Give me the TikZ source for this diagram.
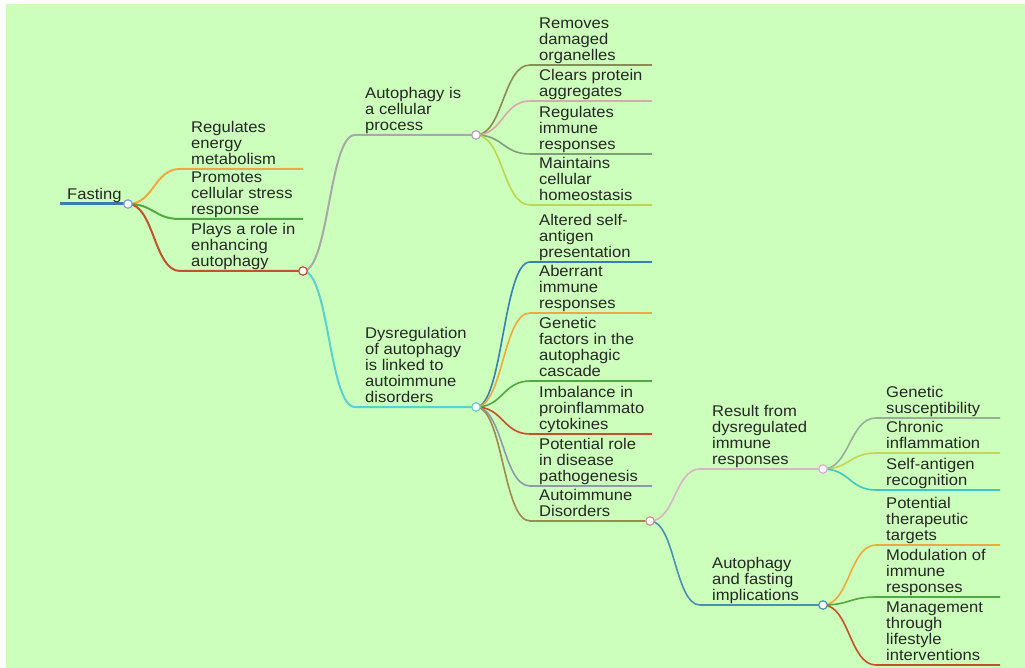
\documentclass[tikz,border=0pt]{standalone}
\usepackage{fontspec}
\setmainfont{Liberation Sans}[FakeStretch=1.07]
\usetikzlibrary{calc}
\definecolor{bg}{RGB}{204,255,187}
\definecolor{txt}{RGB}{38,38,38}
\definecolor{cRoot}{RGB}{61,122,181}
\definecolor{cRootDot}{RGB}{130,160,205}
\definecolor{cOrange}{RGB}{240,168,60}
\definecolor{cGreen}{RGB}{82,168,68}
\definecolor{cRed}{RGB}{192,82,46}
\definecolor{cGray}{RGB}{168,168,168}
\definecolor{cGrayDot}{RGB}{176,160,184}
\definecolor{cCyan}{RGB}{91,208,208}
\definecolor{cOlive}{RGB}{139,139,85}
\definecolor{cPink}{RGB}{217,168,168}
\definecolor{cGrayGreen}{RGB}{127,159,120}
\definecolor{cYellowGreen}{RGB}{188,216,74}
\definecolor{cBlue}{RGB}{58,126,184}
\definecolor{cGrayBlue}{RGB}{140,154,170}
\definecolor{cOliveBrown}{RGB}{160,136,78}
\definecolor{cOliveDot}{RGB}{200,150,140}
\definecolor{cPink2}{RGB}{216,180,196}
\definecolor{cPinkDot}{RGB}{224,168,216}
\definecolor{cSteel}{RGB}{74,143,181}
\definecolor{cCyan2}{RGB}{64,200,192}
\definecolor{cGrayGreen2}{RGB}{152,174,152}
\definecolor{cYellowGreen2}{RGB}{198,212,84}
\newcommand\lastd{\rule[-4.5pt]{0pt}{4.5pt}}
\newcommand\lnk[4]{\draw[#4] let \p1=(#1), \p2=(#2) in (\p1) .. controls ({0.5*\x1+0.5*\x2},\y1) and ({0.5*\x1+0.5*\x2},\y2) .. (\p2) -- (#3);}
\tikzset{
  lbl/.style={anchor=south west, inner sep=0pt, align=left, text=txt, font=\fontsize{15.5}{16}\selectfont},
  dot/.style={circle, fill=white, draw, line width=1.2pt, minimum size=8.5pt, inner sep=0pt},
  lw1/.style={line width=2pt},
  lw2/.style={line width=1.6pt}
}
\begin{document}
\begin{tikzpicture}[x=1pt,y=-1pt]
\useasboundingbox (0,0) rectangle (1025,668);
\fill[white] (0,0) rectangle (1025,668);
\fill[bg] (6,4) rectangle (1025,668);

% ---------- coordinates ----------
\coordinate (rS) at (60,204);  \coordinate (r) at (128,204);
% level 1
\coordinate (a1S) at (180,169); \coordinate (a1E) at (303,169);
\coordinate (a2S) at (180,219); \coordinate (a2E) at (303,219);
\coordinate (a3S) at (180,271); \coordinate (a3) at (303,271);
% level 2
\coordinate (b1S) at (355,135); \coordinate (b1) at (476,135);
\coordinate (b2S) at (355,407); \coordinate (b2) at (476,407);
% level 3 (autophagy)
\coordinate (c1S) at (530,65);  \coordinate (c1E) at (652,65);
\coordinate (c2S) at (530,101); \coordinate (c2E) at (652,101);
\coordinate (c3S) at (530,154); \coordinate (c3E) at (652,154);
\coordinate (c4S) at (530,205); \coordinate (c4E) at (652,205);
% level 3 (dysregulation)
\coordinate (d1S) at (530,262); \coordinate (d1E) at (652,262);
\coordinate (d2S) at (530,313); \coordinate (d2E) at (652,313);
\coordinate (d3S) at (530,381); \coordinate (d3E) at (652,381);
\coordinate (d4S) at (530,434); \coordinate (d4E) at (652,434);
\coordinate (d5S) at (530,486); \coordinate (d5E) at (652,486);
\coordinate (d6S) at (530,521); \coordinate (d6) at (650,521);
% level 4
\coordinate (e1S) at (700,469); \coordinate (e1) at (823,469);
\coordinate (e2S) at (700,605); \coordinate (e2) at (823,605);
% level 5
\coordinate (f1S) at (876,418); \coordinate (f1E) at (1000,418);
\coordinate (f2S) at (876,453); \coordinate (f2E) at (1000,453);
\coordinate (f3S) at (876,490); \coordinate (f3E) at (1000,490);
\coordinate (g1S) at (876,545); \coordinate (g1E) at (1000,545);
\coordinate (g2S) at (876,597); \coordinate (g2E) at (1000,597);
\coordinate (g3S) at (876,665); \coordinate (g3E) at (1000,665);

% ---------- connectors ----------
\draw[cRoot, line width=3pt] (rS) -- (r);
\lnk{r}{a1S}{a1E}{cOrange, lw1}
\lnk{r}{a2S}{a2E}{cGreen, lw1}
\lnk{r}{a3S}{a3}{cRed, lw1}
\lnk{a3}{b1S}{b1}{cGray, lw1}
\lnk{a3}{b2S}{b2}{cCyan, lw1}
\lnk{b1}{c1S}{c1E}{cOlive, lw2}
\lnk{b1}{c2S}{c2E}{cPink, lw2}
\lnk{b1}{c3S}{c3E}{cGrayGreen, lw2}
\lnk{b1}{c4S}{c4E}{cYellowGreen, lw2}
\lnk{b2}{d1S}{d1E}{cBlue, lw2}
\lnk{b2}{d2S}{d2E}{cOrange, lw2}
\lnk{b2}{d3S}{d3E}{cGreen, lw2}
\lnk{b2}{d4S}{d4E}{cRed, lw2}
\lnk{b2}{d5S}{d5E}{cGrayBlue, lw2}
\lnk{b2}{d6S}{d6}{cOliveBrown, lw2}
\lnk{d6}{e1S}{e1}{cPink2, lw2}
\lnk{d6}{e2S}{e2}{cSteel, lw2}
\lnk{e1}{f1S}{f1E}{cGrayGreen2, lw2}
\lnk{e1}{f2S}{f2E}{cYellowGreen2, lw2}
\lnk{e1}{f3S}{f3E}{cCyan2, lw2}
\lnk{e2}{g1S}{g1E}{cOrange, lw2}
\lnk{e2}{g2S}{g2E}{cGreen, lw2}
\lnk{e2}{g3S}{g3E}{cRed, lw2}

% ---------- dots ----------
\node[dot, draw=cRootDot] (rDot) at (r) {};
\node[dot, draw=cRed] (a3Dot) at (a3) {};
\node[dot, draw=cGrayDot] (b1Dot) at (b1) {};
\node[dot, draw=cCyan] (b2Dot) at (b2) {};
\node[dot, draw=cOliveDot] (d6Dot) at (d6) {};
\node[dot, draw=cPinkDot] (e1Dot) at (e1) {};
\node[dot, draw=cSteel] (e2Dot) at (e2) {};

% ---------- labels ----------
\node[lbl] (rT) at (67,204) {Fasting\lastd};
\node[lbl] (a1T) at (191,169) {Regulates\\energy\\metabolism\lastd};
\node[lbl] (a2T) at (191,219) {Promotes\\cellular stress\\response\lastd};
\node[lbl] (a3T) at (191,271) {Plays a role in\\enhancing\\autophagy\lastd};
\node[lbl] (b1T) at (365,135) {Autophagy is\\a cellular\\process\lastd};
\node[lbl] (b2T) at (365,407) {Dysregulation\\of autophagy\\is linked to\\autoimmune\\disorders\lastd};
\node[lbl] (c1T) at (539,65) {Removes\\damaged\\organelles\lastd};
\node[lbl] (c2T) at (539,101) {Clears protein\\aggregates\lastd};
\node[lbl] (c3T) at (539,154) {Regulates\\immune\\responses\lastd};
\node[lbl] (c4T) at (539,205) {Maintains\\cellular\\homeostasis\lastd};
\node[lbl] (d1T) at (539,262) {Altered self-\\antigen\\presentation\lastd};
\node[lbl] (d2T) at (539,313) {Aberrant\\immune\\responses\lastd};
\node[lbl] (d3T) at (539,381) {Genetic\\factors in the\\autophagic\\cascade\lastd};
\node[lbl] (d4T) at (539,434) {Imbalance in\\proinflammato\\cytokines\lastd};
\node[lbl] (d5T) at (539,486) {Potential role\\in disease\\pathogenesis\lastd};
\node[lbl] (d6T) at (539,521) {Autoimmune\\Disorders\lastd};
\node[lbl] (e1T) at (712,469) {Result from\\dysregulated\\immune\\responses\lastd};
\node[lbl] (e2T) at (712,605) {Autophagy\\and fasting\\implications\lastd};
\node[lbl] (f1T) at (886,418) {Genetic\\susceptibility\lastd};
\node[lbl] (f2T) at (886,453) {Chronic\\inflammation\lastd};
\node[lbl] (f3T) at (886,490) {Self-antigen\\recognition\lastd};
\node[lbl] (g1T) at (886,545) {Potential\\therapeutic\\targets\lastd};
\node[lbl] (g2T) at (886,597) {Modulation of\\immune\\responses\lastd};
\node[lbl] (g3T) at (886,665) {Management\\through\\lifestyle\\interventions\lastd};
\end{tikzpicture}
\end{document}
